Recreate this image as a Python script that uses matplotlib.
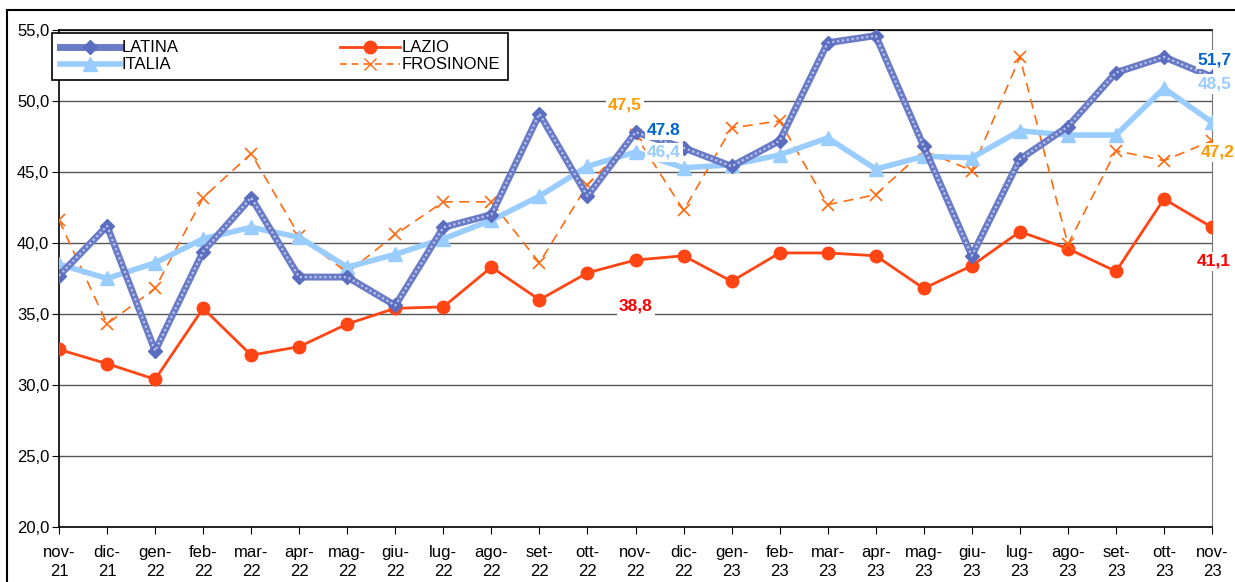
import matplotlib.pyplot as plt
from matplotlib.patches import Rectangle

plt.rcParams['font.family'] = ['Liberation Sans', 'DejaVu Sans']
plt.rcParams['font.size'] = 11

mesi = ['nov-\n21', 'dic-\n21', 'gen-\n22', 'feb-\n22', 'mar-\n22', 'apr-\n22', 'mag-\n22',
        'giu-\n22', 'lug-\n22', 'ago-\n22', 'set-\n22', 'ott-\n22', 'nov-\n22', 'dic-\n22',
        'gen-\n23', 'feb-\n23', 'mar-\n23', 'apr-\n23', 'mag-\n23', 'giu-\n23', 'lug-\n23',
        'ago-\n23', 'set-\n23', 'ott-\n23', 'nov-\n23']

latina = [37.7, 41.2, 32.4, 39.4, 43.2, 37.6, 37.6, 35.6, 41.1, 42.0, 49.1, 43.3, 47.8,
          46.7, 45.4, 47.2, 54.1, 54.6, 46.8, 39.1, 45.9, 48.2, 52.0, 53.1, 51.7]
italia = [38.5, 37.5, 38.6, 40.3, 41.1, 40.4, 38.3, 39.2, 40.3, 41.6, 43.3, 45.4, 46.4,
          45.3, 45.5, 46.2, 47.4, 45.2, 46.1, 46.0, 47.9, 47.6, 47.6, 50.9, 48.5]
lazio = [32.5, 31.5, 30.4, 35.4, 32.1, 32.7, 34.3, 35.4, 35.5, 38.3, 36.0, 37.9, 38.8,
         39.1, 37.3, 39.3, 39.3, 39.1, 36.8, 38.4, 40.8, 39.6, 38.0, 43.1, 41.1]
frosinone = [41.6, 34.3, 36.8, 43.2, 46.3, 40.5, 37.9, 40.6, 42.9, 42.9, 38.6, 44.1, 47.6,
             42.3, 48.1, 48.6, 42.7, 43.4, 46.5, 45.1, 53.1, 39.9, 46.5, 45.8, 47.2]

yticks = [20, 25, 30, 35, 40, 45, 50, 55]

x = list(range(len(mesi)))

fig = plt.figure(figsize=(12.35, 5.82), dpi=100)
ax = fig.add_axes([0.0478, 0.0945, 0.9336, 0.854])

# cornice esterna
fig.patches.append(Rectangle((0.0057, -0.05), 1.1, 1.033, transform=fig.transFigure,
                             fill=False, edgecolor='black', linewidth=1.5))

# LATINA: linea a trama
ax.plot(x, latina, color='#6A7BC6', lw=5, marker='D', ms=7, mfc='#5B6DBE', mec='#5B6DBE', zorder=4)
ax.plot(x, latina, color='#BAC3EC', lw=1.6, dashes=(1, 1.2), zorder=4.1)
ax.plot(x, lazio, color='#FF4514', lw=2, marker='o', ms=9, zorder=3)
ax.plot(x, italia, color='#99CCFF', lw=4, marker='^', ms=10, zorder=3.5)
ax.plot(x, frosinone, color='#FF6A10', lw=1.2, ls=(0, (6, 4)), marker='x', ms=8, mew=1.2, zorder=3.2)

# legenda
h1 = ax.plot([], [], color='#6A7BC6', lw=5, marker='D', ms=7, mfc='#5B6DBE', mec='#5B6DBE')[0]
h2 = ax.plot([], [], color='#99CCFF', lw=4, marker='^', ms=10)[0]
h3 = ax.plot([], [], color='#FF4514', lw=2, marker='o', ms=9)[0]
h4 = ax.plot([], [], color='#FF6A10', lw=1.2, ls=(0, (4, 3)), marker='x', ms=8)[0]
leg = ax.legend([h1, h2, h3, h4], ['LATINA', 'ITALIA', 'LAZIO', 'FROSINONE'], ncol=2,
                loc='upper left', bbox_to_anchor=(-0.006, 0.906, 0.395, 0.088),
                mode='expand', borderaxespad=0,
                fancybox=False, edgecolor='black', framealpha=1, fontsize=12,
                handlelength=3.6, columnspacing=7.0, borderpad=0.45, labelspacing=0.12,
                handletextpad=0.1)
leg.get_frame().set_linewidth(1.2)
leg.set_zorder(10)

ax.set_xlim(0, 24)
ax.set_ylim(20, 55)
ax.set_yticks(yticks)
ax.set_yticklabels([('%.1f' % v).replace('.', ',') for v in yticks])
ax.set_xticks(x)
ax.set_xticklabels(mesi, linespacing=1.3)
ax.tick_params(axis='both', direction='out', length=5, color='black', labelsize=12)
ax.tick_params(axis='x', pad=8)
ax.tick_params(axis='y', pad=2)
ax.grid(axis='y', color='#555555', lw=1)
ax.set_axisbelow(True)
for s in ['left', 'bottom', 'top']:
    ax.spines[s].set_color('black')
    ax.spines[s].set_linewidth(1.2)
ax.spines['right'].set_color('#777777')

# etichette dati
etichette = [
    (11.78, 49.7, '47,5', '#FF9900', 'center'),
    (12.24, 47.9, '47.8', '#0066CC', 'left'),
    (12.24, 46.4, '46,4', '#99CCFF', 'left'),
    (12.01, 35.56, '38,8', '#FF0000', 'center'),
    (24.06, 52.9, '51,7', '#0066CC', 'center'),
    (24.06, 51.2, '48,5', '#99CCFF', 'center'),
    (24.12, 46.4, '47,2', '#FF9900', 'center'),
    (24.03, 38.7, '41,1', '#FF0000', 'center'),
]
for ex, ey, t, c, ha in etichette:
    ax.text(ex, ey, t, color=c, fontsize=12.5, fontweight='bold', ha=ha, va='center',
            clip_on=False, zorder=6,
            bbox=dict(facecolor='white', edgecolor='none', pad=1.5))

fig.savefig('out.png', dpi=100)
